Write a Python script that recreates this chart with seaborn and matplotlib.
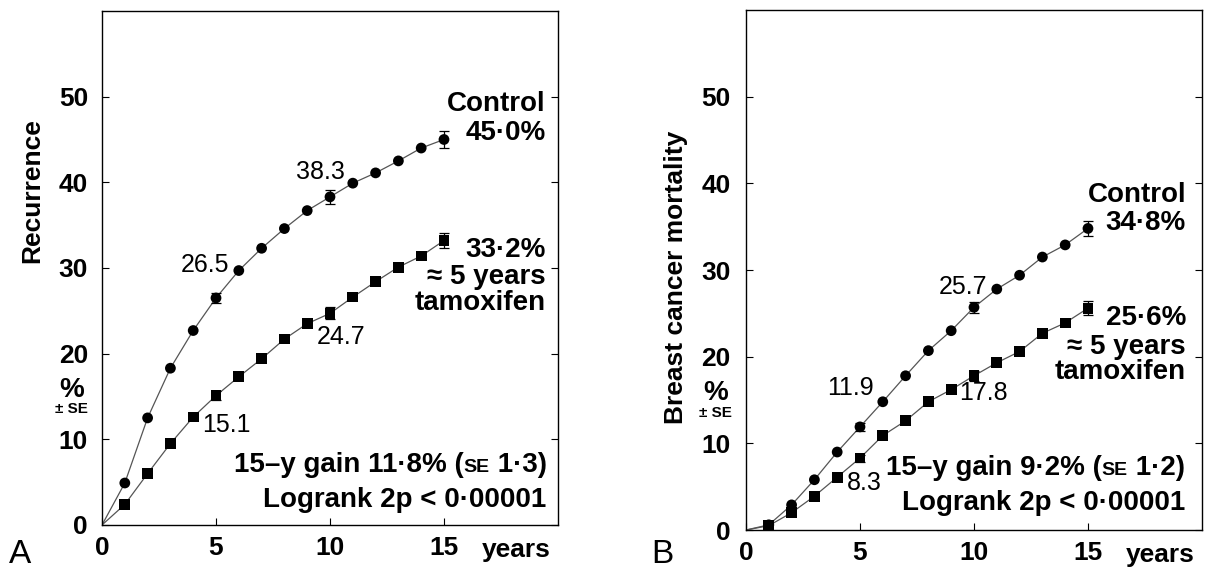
import pandas as pd
import seaborn as sns
from matplotlib import pyplot as plt
from matplotlib.offsetbox import TextArea, HPacker, AnnotationBbox

# ---------- dados ----------
anos = list(range(0, 16))

# Painel A: recorrência
controle_A = [0, 4.9, 12.5, 18.3, 22.7, 26.5, 29.7, 32.3, 34.6, 36.7, 38.3, 39.9, 41.1, 42.5, 44.0, 45.0]
tamox_A = [0, 2.4, 6.0, 9.5, 12.6, 15.1, 17.3, 19.4, 21.7, 23.5, 24.7, 26.6, 28.4, 30.1, 31.4, 33.2]

# Painel B: mortalidade por câncer de mama
controle_B = [0, 0.6, 2.9, 5.8, 9.0, 11.9, 14.8, 17.8, 20.7, 23.0, 25.7, 27.8, 29.4, 31.5, 32.9, 34.8]
tamox_B = [0, 0.5, 2.0, 3.9, 6.1, 8.3, 10.9, 12.6, 14.8, 16.2, 17.8, 19.3, 20.6, 22.7, 23.9, 25.6]

# erro padrão nos anos 5, 10 e 15
anos_se = [5, 10, 15]
se_controle_A = [0.6, 0.8, 1.0]
se_tamox_A = [0.5, 0.7, 0.9]
se_controle_B = [0.5, 0.6, 0.9]
se_tamox_B = [0.4, 0.6, 0.8]

sns.set_style("ticks")
plt.rcParams['font.family'] = ['Liberation Sans', 'DejaVu Sans']
plt.rcParams['text.color'] = 'black'

fig = plt.figure(figsize=(12.13, 5.72), dpi=100)
axA = fig.add_axes([0.0841, 0.0822, 0.3759, 0.8986])
axB = fig.add_axes([0.6150, 0.0734, 0.3759, 0.9090])

TAM_NEG = 20  # tamanho dos textos em negrito


def linha_ganho(ax, x, y, inicio, se_val):
    # texto com "SE" em versalete (menor)
    props = dict(fontsize=TAM_NEG, fontweight='bold', color='black')
    caixa = HPacker(children=[
        TextArea(inicio, textprops=props),
        TextArea("SE", textprops=dict(fontsize=14, fontweight='bold', color='black')),
        TextArea(" " + se_val + ")", textprops=props),
    ], align='baseline', pad=0, sep=0)
    ab = AnnotationBbox(caixa, (x, y), xycoords='data', box_alignment=(1, 0.5),
                        frameon=False, pad=0)
    ax.add_artist(ab)


def painel(ax, controle, tamox, se_c, se_t, ylabel, ylabel_y, pad_y):
    df = pd.DataFrame({
        'ano': anos * 2,
        'pct': controle + tamox,
        'grupo': ['controle'] * len(anos) + ['tamox'] * len(anos),
    })
    sns.lineplot(data=df, x='ano', y='pct', units='grupo', estimator=None,
                 color='#555555', linewidth=0.9, ax=ax)
    sns.scatterplot(data=df[df['ano'] > 0], x='ano', y='pct', style='grupo',
                    markers={'controle': 'o', 'tamox': 's'}, color='black',
                    s=60, edgecolor='black', linewidth=0, legend=False, ax=ax, zorder=3)
    c_se = [controle[a] for a in anos_se]
    t_se = [tamox[a] for a in anos_se]
    ax.errorbar(anos_se, c_se, yerr=se_c, fmt='none', ecolor='black', elinewidth=0.9, capsize=3.5, capthick=0.9)
    ax.errorbar(anos_se, t_se, yerr=se_t, fmt='none', ecolor='black', elinewidth=0.9, capsize=3.5, capthick=0.9)

    ax.set_xlim(0, 20)
    ax.set_ylim(0, 60)
    ax.set_xticks([0, 5, 10, 15])
    ax.set_yticks([0, 10, 20, 30, 40, 50])
    ax.tick_params(direction='in', right=True, top=False, length=5, width=0.8,
                   labelsize=19, colors='black')
    ax.tick_params(axis='y', pad=pad_y)
    ax.tick_params(axis='x', pad=8)
    for lab in ax.get_xticklabels() + ax.get_yticklabels():
        lab.set_fontweight('bold')
    for sp in ax.spines.values():
        sp.set_visible(True)
        sp.set_linewidth(1.0)
        sp.set_color('black')
    ax.set_xlabel('')
    ax.set_ylabel('')
    ax.text(-0.153, ylabel_y, ylabel, transform=ax.transAxes, rotation=90,
            ha='center', va='center', fontsize=19, fontweight='bold')
    ax.text(-0.066, 0.263, '%', transform=ax.transAxes, ha='center', va='center',
            fontsize=20, fontweight='bold')
    ax.text(-0.066, 0.226, '± SE', transform=ax.transAxes, ha='center', va='center',
            fontsize=11, fontweight='bold')
    ax.text(16.65, -0.049, 'years', transform=ax.get_xaxis_transform(),
            ha='left', va='center', fontsize=19, fontweight='bold')


# ---------- Painel A ----------
painel(axA, controle_A, tamox_A, se_controle_A, se_tamox_A, 'Recurrence', 0.65, 10)
for y, txt in [(49.1, 'Control'), (45.8, '45·0%'), (32.1, '33·2%'),
               (29.0, '≈ 5 years'), (25.9, 'tamoxifen')]:
    axA.text(19.45, y, txt, ha='right', va='center', fontsize=TAM_NEG, fontweight='bold')
axA.text(4.5, 30.4, '26.5', ha='center', va='center', fontsize=18)
axA.text(9.56, 41.2, '38.3', ha='center', va='center', fontsize=18)
axA.text(5.45, 11.7, '15.1', ha='center', va='center', fontsize=18)
axA.text(10.5, 22.0, '24.7', ha='center', va='center', fontsize=18)
linha_ganho(axA, 19.5, 7.0, '15–y gain 11·8% (', '1·3')
axA.text(19.5, 2.9, 'Logrank 2p < 0·00001', ha='right', va='center', fontsize=TAM_NEG, fontweight='bold')

# ---------- Painel B ----------
painel(axB, controle_B, tamox_B, se_controle_B, se_tamox_B, 'Breast cancer mortality', 0.485, 11)
for y, txt in [(38.7, 'Control'), (35.4, '34·8%'), (24.5, '25·6%'),
               (21.1, '≈ 5 years'), (18.2, 'tamoxifen')]:
    axB.text(19.3, y, txt, ha='right', va='center', fontsize=TAM_NEG, fontweight='bold')
axB.text(9.5, 28.1, '25.7', ha='center', va='center', fontsize=18)
axB.text(4.56, 16.4, '11.9', ha='center', va='center', fontsize=18)
axB.text(5.2, 5.4, '8.3', ha='center', va='center', fontsize=18)
axB.text(10.4, 15.8, '17.8', ha='center', va='center', fontsize=18)
linha_ganho(axB, 19.25, 7.2, '15–y gain 9·2% (', '1·2')
axB.text(19.25, 3.1, 'Logrank 2p < 0·00001', ha='right', va='center', fontsize=TAM_NEG, fontweight='bold')

# letras dos painéis
fig.text(0.0165, 0.03, 'A', ha='center', va='center', fontsize=24)
fig.text(0.546, 0.03, 'B', ha='center', va='center', fontsize=24)

fig.savefig('out.png', dpi=100)
